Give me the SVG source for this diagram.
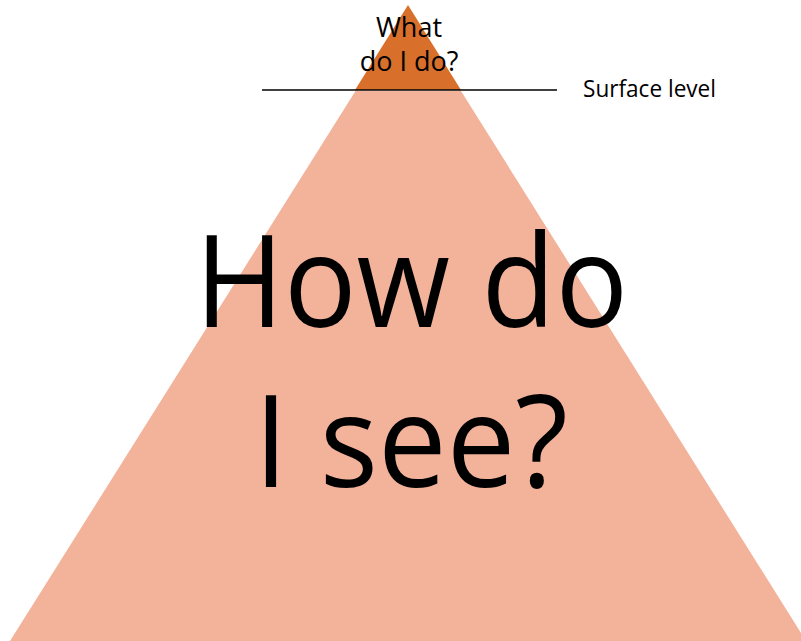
<svg xmlns="http://www.w3.org/2000/svg" width="801" height="641" viewBox="0 0 801 641">
<style>
text{font-family:"Open Sans","Liberation Sans",sans-serif;fill:#000;text-anchor:middle}
.small{font-size:27px}
.big{font-size:129px}
</style>
<rect width="801" height="641" fill="#fff"/>
<g id="base">
<polygon points="355.5,91 461,91 806,641 10,641" fill="#F3B29A"/>
</g>
<g id="tip">
<polygon points="408,5 461,90 355,90" fill="#D8702C"/>
</g>
<g id="connectors">
<line x1="262" y1="90" x2="557" y2="90" stroke="#000" stroke-width="1.6"/>
</g>
<g id="labels">
<text class="small" x="409" y="37">What</text>
<text class="small" x="409" y="71">do I do?</text>
<text x="583" y="97" style="text-anchor:start;font-size:23.5px" textLength="133" lengthAdjust="spacingAndGlyphs">Surface level</text>
<text class="big" x="411.5" y="327" textLength="433" lengthAdjust="spacingAndGlyphs">How do</text>
<text class="big" x="411" y="487" textLength="314" lengthAdjust="spacingAndGlyphs">I see?</text>
</g>
</svg>
